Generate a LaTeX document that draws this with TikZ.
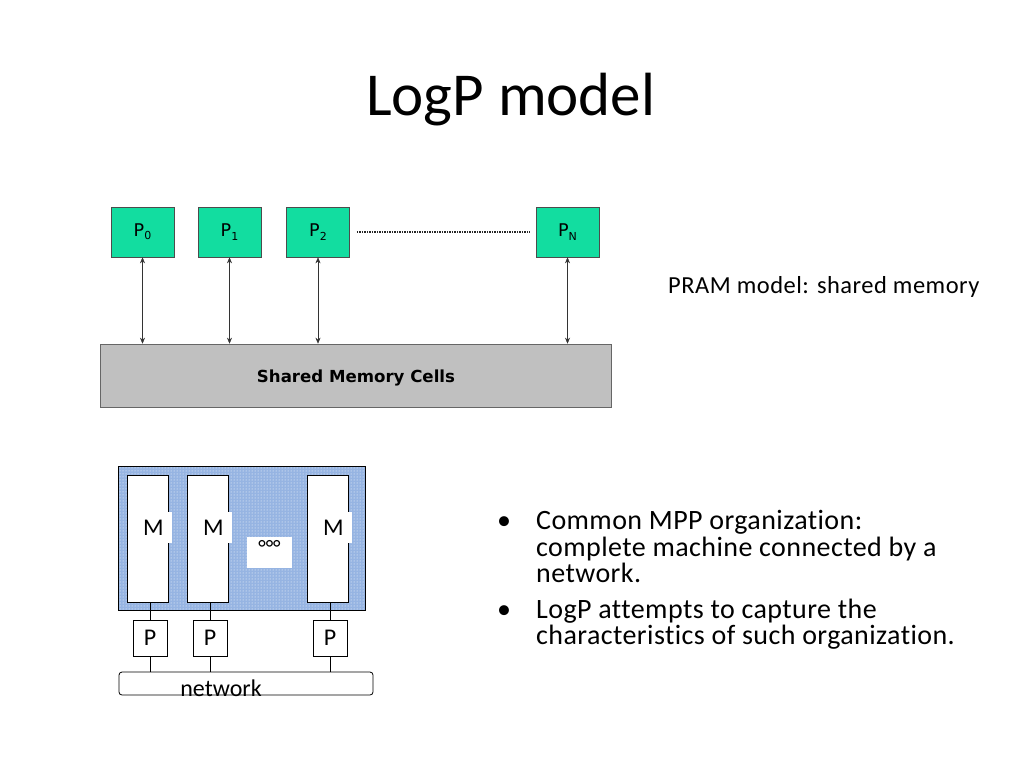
\documentclass[tikz,border=0pt]{standalone}
\usepackage{fontspec}
\setmainfont{Carlito}[Ligatures=NoCommon]
\newfontfamily\bodyfont{Carlito}[Ligatures=NoCommon, LetterSpace=1.5]
\newfontfamily\pramfont{Carlito}[Ligatures=NoCommon, LetterSpace=2]
\newfontfamily\dvfont{DejaVu Sans}
\usetikzlibrary{patterns,arrows.meta}
\definecolor{pgreen}{HTML}{12DDA0}
\definecolor{memgray}{HTML}{C0C0C0}
\definecolor{mppblue}{HTML}{96B4E2}
\newcommand{\psub}[1]{P\raisebox{-0.35ex}{\fontsize{11}{12}\selectfont #1}}
\tikzset{
  pbox/.style={draw=black!70, fill=pgreen, line width=0.6pt, minimum width=63pt, minimum height=50pt, inner sep=0pt, font=\dvfont\fontsize{17.5}{19}\selectfont},
  biarrow/.style={{Stealth[length=6pt,width=5pt]}-{Stealth[length=6pt,width=5pt]}, line width=0.5pt, black!80},
  col/.style={draw=black, fill=white, line width=1pt, minimum width=41pt, minimum height=127pt, inner sep=0pt},
  mlabel/.style={fill=white, minimum width=37pt, minimum height=31pt, inner sep=0pt, font=\fontsize{24}{26}\selectfont},
  smallp/.style={draw=black, fill=white, line width=0.8pt, minimum width=34pt, minimum height=36pt, inner sep=0pt, font=\fontsize{24}{26}\selectfont},
  bodytext/.style={anchor=base west, inner sep=0pt, font=\bodyfont\fontsize{28}{30}\selectfont},
  wire/.style={line width=0.8pt, black}
}
\begin{document}
\begin{tikzpicture}[x=1pt,y=-1pt]
\useasboundingbox (0,0) rectangle (1024,768);
% title
\node[anchor=base west, inner sep=0pt, font=\fontsize{61}{64}\selectfont] (title) at (366,115) {LogP model};
% PRAM diagram
\node[pbox] (p0) at (142.5,232) {\psub{0}};
\node[pbox] (p1) at (229.5,232) {\psub{1}};
\node[pbox] (p2) at (318,232) {\psub{2}};
\node[pbox] (pn) at (567.5,232) {\psub{N}};
\draw[line width=1.6pt, dash pattern=on 1.6pt off 0.9pt, black!85, shorten <=7pt, shorten >=6pt] (p2.east) -- (pn.west);
\node[draw=black!60, fill=memgray, line width=0.6pt, minimum width=511pt, minimum height=63pt, inner sep=0pt] (mem) at (355.5,375.5) {};
\node[inner sep=0pt, font=\dvfont\bfseries\fontsize{16.6}{18}\selectfont] (memtext) at (356,377.5) {Shared Memory Cells};
\foreach \p in {p0,p1,p2,pn}{
  \draw[biarrow] (\p.south) -- (\p.south |- mem.north);
}
\node[anchor=base west, inner sep=0pt, font=\pramfont\fontsize{24.5}{26}\selectfont] (pram) at (668,293) {PRAM model: shared memory};
% MPP diagram
\node[draw=black, line width=1pt, minimum width=247pt, minimum height=144pt, inner sep=0pt,
      preaction={fill=mppblue}, pattern=dots, pattern color=white] (mpp) at (241.5,538) {};
\node[col] (c1) at (147.5,538.5) {};
\node[col] (c2) at (207.5,538.5) {};
\node[col] (c3) at (327.5,538.5) {};
\node[mlabel] (m1) at (153.5,527.5) {M};
\node[mlabel] (m2) at (213.5,527.5) {M};
\node[mlabel] (m3) at (333.5,527.5) {M};
\node[fill=white, minimum width=45pt, minimum height=31pt, inner sep=0pt] (dotsbox) at (269.5,552.5) {};
\node[anchor=north, inner sep=0pt, font=\fontsize{22}{24}\selectfont, yshift=-3pt] (dotstext) at (dotsbox.north) {°°°};
\node[smallp] (q1) at (150,638) {P};
\node[smallp] (q2) at (210,638) {P};
\node[smallp] (q3) at (330,638) {P};
\node[draw=black, line width=0.8pt, rounded corners=3pt, minimum width=254pt, minimum height=23pt, inner sep=0pt] (net) at (246,683.5) {};
\node[inner sep=0pt, font=\fontsize{24}{26}\selectfont] (nettext) at (221,688) {network};
\foreach \q/\c in {q1/c1,q2/c2,q3/c3}{
  \draw[wire] (\q.north) -- (\q.north |- \c.south);
  \draw[wire] (\q.south) -- (\q.south |- net.north);
}
% bullets
\node[anchor=base west, inner sep=0pt, font=\fontsize{28}{30}\selectfont] (b1) at (497,529.5) {•};
\node[bodytext] (l1) at (536,529.5) {Common MPP organization:};
\node[bodytext] (l2) at (536,556) {complete machine connected by a};
\node[bodytext] (l3) at (536,582) {network.};
\node[anchor=base west, inner sep=0pt, font=\fontsize{28}{30}\selectfont] (b2) at (497,618) {•};
\node[bodytext] (l4) at (536,618) {LogP attempts to capture the};
\node[bodytext] (l5) at (536,644.5) {characteristics of such organization.};
\end{tikzpicture}
\end{document}
